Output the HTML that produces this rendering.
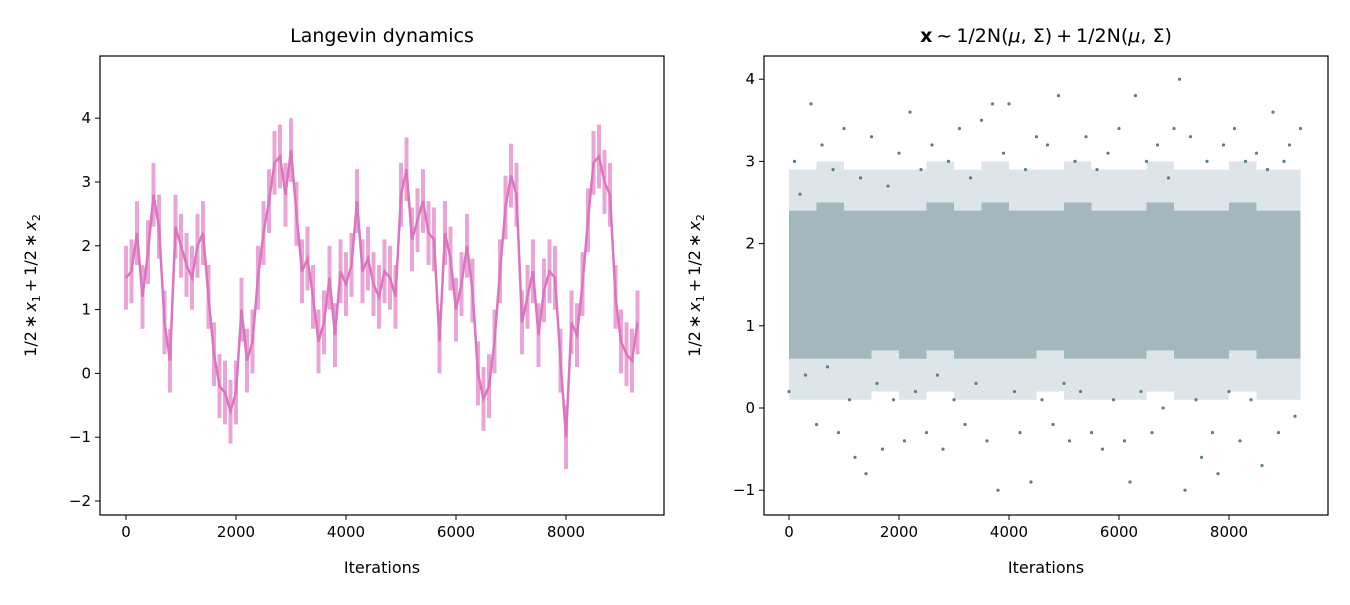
<!DOCTYPE html>
<html><head><meta charset="utf-8"><style>
body{margin:0;background:#fff;}
svg text{font-family:"DejaVu Sans","Liberation Sans",sans-serif;fill:#000;}
</style></head><body>
<svg id="c" width="1350" height="600" xmlns="http://www.w3.org/2000/svg">
<rect width="1350" height="600" fill="#fff"/>
<g id="L"></g>
<g id="R"></g>
</svg>
<script>
// Left panel: estimated trace value every 100 iterations
const leftIters = [];
for (let i = 0; i <= 9300; i += 100) leftIters.push(i);
const leftValues = [1.5,1.6,2.2,1.2,1.9,2.8,2.3,0.8,0.2,2.3,2.0,1.7,1.5,2.0,2.2,1.2,0.3,-0.2,-0.3,-0.6,-0.3,1.0,0.2,0.5,1.5,2.2,2.7,3.3,3.4,2.8,3.5,2.5,1.6,1.8,1.2,0.5,0.8,1.5,0.6,1.6,1.4,1.7,2.7,1.6,1.8,1.4,1.2,1.6,1.5,1.2,2.8,3.2,2.1,2.4,2.7,2.2,2.1,0.5,2.2,1.8,1.0,1.4,2.0,1.3,0.0,-0.4,-0.2,0.5,1.6,2.6,3.1,2.8,0.8,1.2,1.6,0.6,1.3,1.6,1.5,0.2,-1.0,0.8,0.6,1.4,2.4,3.3,3.4,3.0,2.8,1.2,0.5,0.3,0.2,0.8];
const leftSpread = 0.5;
const leftXTicks = [0,2000,4000,6000,8000];
const leftYTicks = [-2,-1,0,1,2,3,4];

// Right panel: estimated envelope per bin and sample values
const rightBinIters = [0,500,1000,1500,2000,2500,3000,3500,4000,4500,5000,5500,6000,6500,7000,7500,8000,8500,9000,9300];
const rightLo = [0.6,0.6,0.6,0.7,0.6,0.7,0.6,0.6,0.6,0.7,0.6,0.6,0.6,0.7,0.6,0.6,0.7,0.6,0.6];
const rightHi = [2.4,2.5,2.4,2.4,2.4,2.5,2.4,2.5,2.4,2.4,2.5,2.4,2.4,2.5,2.4,2.4,2.5,2.4,2.4];
const rightIters = leftIters;
const rightValues = [0.2,3.0,2.6,0.4,3.7,-0.2,3.2,0.5,2.9,-0.3,3.4,0.1,-0.6,2.8,-0.8,3.3,0.3,-0.5,2.7,0.1,3.1,-0.4,3.6,0.2,2.9,-0.3,3.2,0.4,-0.5,3.0,0.1,3.4,-0.2,2.8,0.3,3.5,-0.4,3.7,-1.0,3.1,3.7,0.2,-0.3,2.9,-0.9,3.3,0.1,3.2,-0.2,3.8,0.3,-0.4,3.0,0.2,3.3,-0.3,2.9,-0.5,3.1,0.1,3.4,-0.4,-0.9,3.8,0.2,3.0,-0.3,3.2,0.0,2.8,3.4,4.0,-1.0,3.3,0.1,-0.6,3.0,-0.3,-0.8,3.2,0.2,3.4,-0.4,3.0,0.1,3.1,-0.7,2.9,3.6,-0.3,3.0,3.2,-0.1,3.4];
const rightXTicks = [0,2000,4000,6000,8000];
const rightYTicks = [-1,0,1,2,3,4];

const NS = "http://www.w3.org/2000/svg";
function mk(parent, tag, attrs, text){
  const e = document.createElementNS(NS, tag);
  for (const k in attrs) e.setAttribute(k, attrs[k]);
  if (text !== undefined) e.textContent = text;
  parent.appendChild(e);
  return e;
}

function axes(g, box, xs, ys, xt, yt, title, titleHTML){
  const [x0,y0,x1,y1] = box;
  for (const t of xt){
    const X = xs(t);
    const tk = mk(g,'line',{x1:X,x2:X,y1:y1,y2:y1+5,stroke:'#000','stroke-width':1});
    
    
    const lb = mk(g,'text',{x:X,y:y1+22,'text-anchor':'middle','font-size':15},String(t));
    
    
  }
  for (const t of yt){
    const Y = ys(t);
    const tk = mk(g,'line',{x1:x0-5,x2:x0,y1:Y,y2:Y,stroke:'#000','stroke-width':1});
    
    
    const lb = mk(g,'text',{x:x0-9,y:Y+5,'text-anchor':'end','font-size':15},t<0?'\u2212'+(-t):String(t));
    
    
  }
  const fr = mk(g,'rect',{x:x0,y:y0,width:x1-x0,height:y1-y0,fill:'none',stroke:'#000','stroke-width':1.2});
  
  
  const xl = mk(g,'text',{x:(x0+x1)/2,y:573,'text-anchor':'middle','font-size':16},'Iterations');
  
  
  const yx = x0-64, yy=(y0+y1)/2;
  const yl = mk(g,'text',{x:yx,y:yy,'text-anchor':'middle','font-size':16,transform:`rotate(-90 ${yx} ${yy})`});
  yl.innerHTML = '1/2<tspan dx="3">∗</tspan><tspan dx="3" font-style="italic">x</tspan><tspan font-size="11" dy="4">1</tspan><tspan dy="-4" dx="3">+</tspan><tspan dx="3">1/2</tspan><tspan dx="3">∗</tspan><tspan dx="3" font-style="italic">x</tspan><tspan font-size="11" dy="4">2</tspan>';
  
  
  const tt = mk(g,'text',{x:(x0+x1)/2,y:42,'text-anchor':'middle','font-size':19});
  if (titleHTML) tt.innerHTML = titleHTML; else tt.textContent = title;
  
  
}

// Left
(function(){
  const g = document.getElementById('L');
  const box=[100,56,664,515];
  const xs = v => 126 + v*0.055;
  const ys = v => 373.4 - v*63.8;
  const col = '#dc74c0';
  for (let i=0;i<leftIters.length;i++){
    const X = xs(leftIters[i]);
    const b = mk(g,'rect',{x:X-2,y:ys(leftValues[i]+leftSpread),width:4,height:ys(leftValues[i]-leftSpread)-ys(leftValues[i]+leftSpread),fill:col,opacity:0.65});
    
    
  }
  const pts = leftIters.map((t,i)=>xs(t)+','+ys(leftValues[i])).join(' ');
  const pl = mk(g,'polyline',{points:pts,fill:'none',stroke:col,'stroke-width':2.5});
  
  
  axes(g,box,xs,ys,leftXTicks,leftYTicks,'Langevin dynamics');
})();

// Right
(function(){
  const g = document.getElementById('R');
  const box=[764,56,1328,515];
  const xs = v => 789 + v*0.055;
  const ys = v => 408 - v*82.2;
  const col = '#5a7f8a';
  for (let i=0;i<rightBinIters.length-1;i++){
    const xa = xs(rightBinIters[i]), xb = xs(rightBinIters[i+1]);
    const r2 = mk(g,'rect',{x:xa,y:ys(rightHi[i]+0.5),width:xb-xa,height:ys(rightLo[i]-0.5)-ys(rightHi[i]+0.5),fill:col,opacity:0.2});
    
    
    const r = mk(g,'rect',{x:xa,y:ys(rightHi[i]),width:xb-xa,height:ys(rightLo[i])-ys(rightHi[i]),fill:col,opacity:0.45});
    
    
  }
  for (let i=0;i<rightIters.length;i++){
    const c = mk(g,'circle',{cx:xs(rightIters[i]),cy:ys(rightValues[i]),r:1.6,fill:col});
    
    
  }
  axes(g,box,xs,ys,rightXTicks,rightYTicks,'',
   '<tspan font-weight="bold">x</tspan><tspan dx="4">~</tspan><tspan dx="4">1/2N(</tspan><tspan font-style="italic">μ</tspan>, Σ)<tspan dx="4">+</tspan><tspan dx="4">1/2N(</tspan><tspan font-style="italic">μ</tspan>, Σ)');
})();
</script>
</body></html>
